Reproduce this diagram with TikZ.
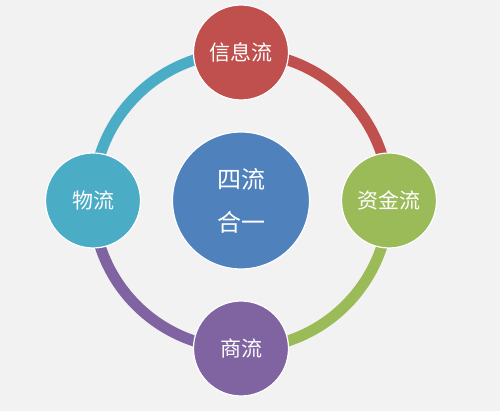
\documentclass[tikz,border=0pt]{standalone}
\usepackage{fontspec}
\newfontfamily\cjk{Noto Sans CJK SC}
\usetikzlibrary{positioning, backgrounds}
\definecolor{bgcol}{HTML}{F2F2F2}
\definecolor{infocol}{HTML}{C0504D}
\definecolor{fundcol}{HTML}{9BBB59}
\definecolor{tradecol}{HTML}{8064A2}
\definecolor{logicol}{HTML}{4BACC6}
\definecolor{hubcol}{HTML}{4F81BD}
\tikzset{
	flow/.style={circle, draw=white, line width=1.2pt, minimum size=95pt, inner sep=0pt,
		text=white, font=\cjk\fontsize{21}{25}\selectfont},
	ring/.style={line width=11pt}
}
\begin{document}
\begin{tikzpicture}[x=1pt, y=1pt]
				\useasboundingbox (0,0) rectangle (500,411);
				\node[circle, fill=hubcol, draw=white, line width=1.2pt, minimum size=137pt, inner sep=0pt,
					text=white, align=center, font=\cjk\fontsize{24}{43}\selectfont] (hub) at (241,210.5) {四流\\合一};
				\node[flow, fill=infocol]  (info)  [above=148pt of hub.center, anchor=center] {信息流};
				\node[flow, fill=fundcol]  (fund)  [right=148pt of hub.center, anchor=center] {资金流};
				\node[flow, fill=tradecol] (trade) [below=148pt of hub.center, anchor=center] {商流};
				\node[flow, fill=logicol]  (logi)  [left=148pt of hub.center, anchor=center]  {物流};
				
				\begin{pgfonlayer}{background}
					\fill[bgcol] (0,0) rectangle (500,411);
					%anel: cada arco tem a cor do circulo de onde parte
					\draw[ring, logicol]  (logi.center)  to[bend left=45] (info.center);
					\draw[ring, infocol]  (info.center)  to[bend left=45] (fund.center);
					\draw[ring, fundcol]  (fund.center)  to[bend left=45] (trade.center);
					\draw[ring, tradecol] (trade.center) to[bend left=45] (logi.center);
				\end{pgfonlayer}
			\end{tikzpicture}
\end{document}
